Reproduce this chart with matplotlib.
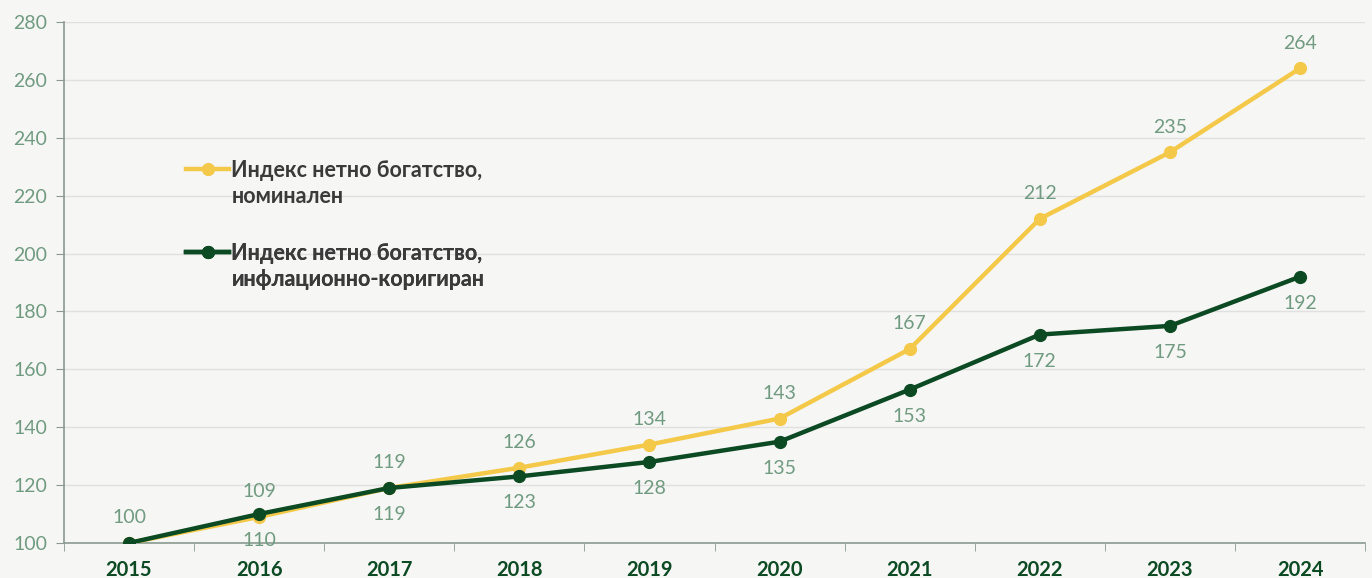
import numpy as np
from matplotlib import pyplot as plt
from matplotlib.lines import Line2D

years = ['2015', '2016', '2017', '2018', '2019', '2020', '2021', '2022', '2023', '2024']
nominal = [100, 109, 119, 126, 134, 143, 167, 212, 235, 264]
real = [100, 110, 119, 123, 128, 135, 153, 172, 175, 192]
labels_nominal = ['100', '109', '119', '126', '134', '143', '167', '212', '235', '264']
labels_real = ['', '110', '119', '123', '128', '135', '153', '172', '175', '192']
series_names = [['Индекс нетно богатство,', 'номинален'],
                ['Индекс нетно богатство,', 'инфлационно-коригиран']]

bg = '#f6f6f5'
yellow = '#f4c94a'
green = '#0b4a22'
lbl = '#709b80'

plt.rcParams['font.family'] = ['Lato', 'DejaVu Sans']

fig = plt.figure(figsize=(13.72, 5.78), dpi=100, facecolor=bg)
ax = fig.add_axes([0.0466, 0.0606, 0.9484, 0.9014])
ax.set_facecolor(bg)

x = np.arange(len(years))
l1, = ax.plot(x, nominal, color=yellow, lw=3.2, marker='o', ms=8.5, zorder=3)
l2, = ax.plot(x, real, color=green, lw=3.2, marker='o', ms=8.5, zorder=4)

for i in range(len(years)):
    ax.annotate(labels_nominal[i], (x[i], nominal[i]), xytext=(0, 12), textcoords='offset points',
                ha='center', va='bottom', fontsize=14, color=lbl)
    if labels_real[i]:
        ax.annotate(labels_real[i], (x[i], real[i]), xytext=(0, -13), textcoords='offset points',
                    ha='center', va='top', fontsize=14, color=lbl)

ax.set_xlim(-0.5, len(years) - 0.5)
ax.set_ylim(100, 280)
ax.set_yticks(range(100, 281, 20))
ax.yaxis.grid(True, color='#e0e0e0', lw=1)
ax.set_axisbelow(True)

ax.set_xticks(x)
ax.set_xticklabels(years, fontsize=14.5, fontweight='bold', color=green)
ax.set_xticks(np.arange(-0.5, len(years), 1), minor=True)
ax.tick_params(axis='x', which='major', length=0, pad=12)
ax.tick_params(axis='x', which='minor', length=6, color='#8a9a90', direction='out')
ax.tick_params(axis='y', length=6, color='#8a9a90', labelsize=14, labelcolor=lbl, pad=6)

for s in ['top', 'right']:
    ax.spines[s].set_visible(False)
for s in ['left', 'bottom']:
    ax.spines[s].set_color('#8a9a90')
    ax.spines[s].set_linewidth(1.2)

# legend: handle sits next to the first line of each two-line label
blank = Line2D([], [], color='none')
for k, (h, names) in enumerate([(l1, series_names[0]), (l2, series_names[1])]):
    leg = ax.legend([h, blank], names, loc='upper left',
                    bbox_to_anchor=(0.094, 0.735 - 0.159 * k), frameon=False,
                    borderpad=0, borderaxespad=0,
                    handlelength=2.0, handletextpad=0.1, labelspacing=0.25,
                    prop={'size': 15.5, 'weight': 'bold'})
    for t in leg.get_texts():
        t.set_color('#3a3a3a')
    ax.add_artist(leg)

plt.savefig('out.png', dpi=100, facecolor=bg)
